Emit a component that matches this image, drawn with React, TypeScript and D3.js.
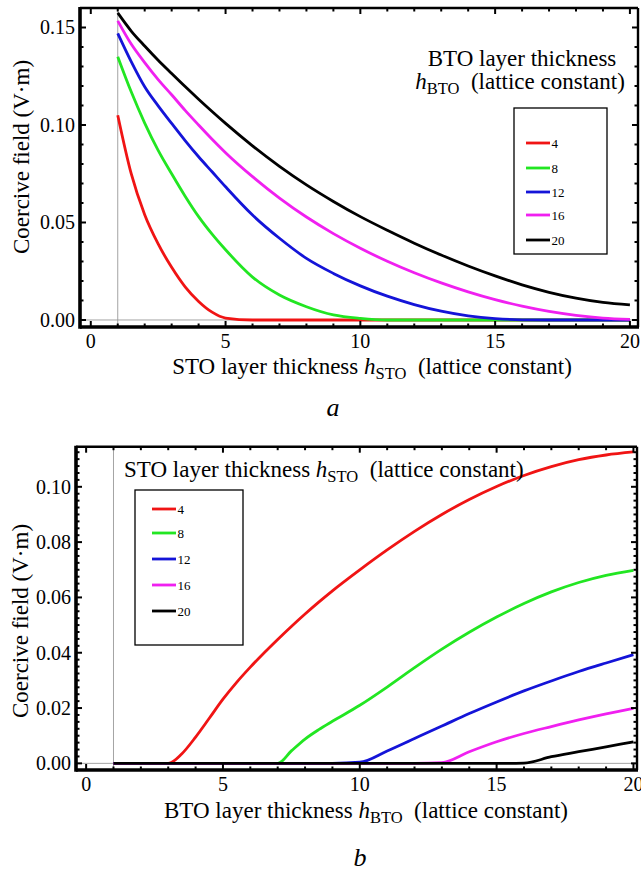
import React from "react";
import * as d3 from "d3";

// ---------- data ----------
const seriesLabels = ["4", "8", "12", "16", "20"];
const seriesColors = ["#f01414", "#22e622", "#1414d8", "#f020f0", "#000000"];

// Panel a: coercive field vs STO thickness, for BTO thickness 4..20
const topX = [1, 1.5, 2, 2.5, 3, 3.5, 4, 4.5, 5, 6, 7, 8, 9, 10, 11, 12, 13, 14, 15, 16, 17, 18, 19, 20];
const topRed = [0.105, 0.075, 0.054, 0.039, 0.027, 0.017, 0.0095, 0.004, 0.001, 0, 0, 0, 0, 0, 0, 0, 0, 0, 0, 0, 0, 0, 0, 0];
const topGreen = [0.135, 0.117, 0.101, 0.087, 0.075, 0.0635, 0.053, 0.044, 0.036, 0.022, 0.0128, 0.0068, 0.0026, 0.0008, 0, 0, 0, 0, 0, 0, 0, 0, 0, 0];
const topBlue = [0.147, 0.1325, 0.1196, 0.1098, 0.1008, 0.092, 0.0837, 0.076, 0.0683, 0.0538, 0.0419, 0.0316, 0.0239, 0.0175, 0.0122, 0.0079, 0.0045, 0.0021, 0.0007, 0.0001, 0, 0, 0, 0];
const topMagenta = [0.1534, 0.1415, 0.132, 0.1233, 0.1155, 0.1075, 0.1, 0.0927, 0.0858, 0.0735, 0.0625, 0.0528, 0.0443, 0.0368, 0.0301, 0.0242, 0.019, 0.0144, 0.0104, 0.0071, 0.0044, 0.0024, 0.001, 0.0003];
const topBlack = [0.1575, 0.1482, 0.1405, 0.1332, 0.1264, 0.1197, 0.1132, 0.1069, 0.1008, 0.0893, 0.0788, 0.0693, 0.0608, 0.053, 0.046, 0.0394, 0.0333, 0.0277, 0.0226, 0.018, 0.0142, 0.0112, 0.009, 0.0077];

// Panel b: coercive field vs BTO thickness, for STO thickness 4..20
const botX = [1, 2, 3, 3.5, 4, 4.5, 5, 5.5, 6, 7, 7.5, 8, 8.5, 9, 10, 11, 12, 13, 14, 15, 16, 17, 18, 19, 20];
const botRed = [0, 0, 0, 0.0035, 0.0095, 0.0163, 0.0232, 0.0293, 0.0348, 0.0448, 0.0495, 0.054, 0.0583, 0.0624, 0.07, 0.0772, 0.0839, 0.09, 0.0954, 0.1001, 0.1041, 0.1073, 0.1098, 0.1115, 0.1126];
const botGreen = [0, 0, 0, 0, 0, 0, 0, 0, 0, 0, 0.0045, 0.0088, 0.0122, 0.0152, 0.021, 0.0276, 0.0346, 0.0413, 0.0474, 0.0529, 0.0578, 0.062, 0.0654, 0.068, 0.0698];
const botBlue = [0, 0, 0, 0, 0, 0, 0, 0, 0, 0, 0, 0, 0, 0, 0.0004, 0.0045, 0.009, 0.0135, 0.018, 0.0222, 0.0262, 0.0298, 0.0332, 0.0363, 0.0393];
const botMagenta = [0, 0, 0, 0, 0, 0, 0, 0, 0, 0, 0, 0, 0, 0, 0, 0, 0, 0.0003, 0.0042, 0.0078, 0.0108, 0.0133, 0.0157, 0.0179, 0.0199];
const botBlack = [0, 0, 0, 0, 0, 0, 0, 0, 0, 0, 0, 0, 0, 0, 0, 0, 0, 0, 0, 0, 0.0001, 0.0024, 0.0042, 0.006, 0.0078];

const xMajor = [0, 5, 10, 15, 20];
const topYMajor = [0, 0.05, 0.1, 0.15];
const botYMajor = [0, 0.02, 0.04, 0.06, 0.08, 0.1];

const FONT = "'Times New Roman', 'Liberation Serif', Tinos, serif";

type Panel = {
  x: d3.ScaleLinear<number, number>;
  y: d3.ScaleLinear<number, number>;
  xs: number[];
  series: number[][];
  yMajor: number[];
  yMinorStep: number;
  yMax: number;
  yLabelRight: number;
  xLabelBase: number;
  fmt: (v: number) => string;
};

function PanelView({ p }: { p: Panel }) {
  const [x0, x1] = p.x.range();
  const [y0, y1] = p.y.range(); // y0 bottom, y1 top
  const line = d3
    .line<[number, number]>()
    .x((d) => p.x(d[0]))
    .y((d) => p.y(d[1]))
    .curve(d3.curveMonotoneX);

  const xMinor = d3.range(0, 21, 1).filter((v) => v % 5 !== 0);
  const nMinor = Math.floor(p.yMax / p.yMinorStep + 1e-9);
  const yMinor = d3
    .range(0, nMinor + 1)
    .map((i) => i * p.yMinorStep)
    .filter((v) => !p.yMajor.some((m) => Math.abs(m - v) < 1e-9));

  const MJ = 6;
  const MN = 3.5;
  return (
    <g>
      <line x1={p.x(1)} x2={p.x(1)} y1={y0} y2={y1} stroke="#9a9a9a" strokeWidth={0.9} />
      <line x1={x0} x2={x1} y1={p.y(0)} y2={p.y(0)} stroke="#9a9a9a" strokeWidth={0.9} />
      {p.series.map((ys, i) => (
        <path
          key={i}
          d={line(p.xs.map((xv, j) => [xv, ys[j]] as [number, number])) || ""}
          fill="none"
          stroke={seriesColors[i]}
          strokeWidth={2.8}
          strokeLinejoin="round"
        />
      ))}
      {xMajor.map((v) => (
        <g key={"xM" + v}>
          <line x1={p.x(v)} x2={p.x(v)} y1={y0} y2={y0 - MJ} stroke="#000" strokeWidth={2} />
          <line x1={p.x(v)} x2={p.x(v)} y1={y1} y2={y1 + MJ} stroke="#000" strokeWidth={2} />
          <text x={p.x(v)} y={p.xLabelBase} textAnchor="middle" fontFamily={FONT} fontSize={20}>
            {v}
          </text>
        </g>
      ))}
      {xMinor.map((v) => (
        <g key={"xm" + v}>
          <line x1={p.x(v)} x2={p.x(v)} y1={y0} y2={y0 - MN} stroke="#000" strokeWidth={2} />
          <line x1={p.x(v)} x2={p.x(v)} y1={y1} y2={y1 + MN} stroke="#000" strokeWidth={2} />
        </g>
      ))}
      {p.yMajor.map((v) => (
        <g key={"yM" + v}>
          <line x1={x0} x2={x0 + MJ} y1={p.y(v)} y2={p.y(v)} stroke="#000" strokeWidth={2} />
          <line x1={x1} x2={x1 - MJ} y1={p.y(v)} y2={p.y(v)} stroke="#000" strokeWidth={2} />
          <text x={p.yLabelRight} y={p.y(v) + 7} textAnchor="end" fontFamily={FONT} fontSize={20}>
            {p.fmt(v)}
          </text>
        </g>
      ))}
      {yMinor.map((v, i) => (
        <g key={"ym" + i}>
          <line x1={x0} x2={x0 + MN} y1={p.y(v)} y2={p.y(v)} stroke="#000" strokeWidth={2} />
          <line x1={x1} x2={x1 - MN} y1={p.y(v)} y2={p.y(v)} stroke="#000" strokeWidth={2} />
        </g>
      ))}
      <line x1={x0} x2={x1} y1={y1} y2={y1} stroke="#000" strokeWidth={2.6} />
      <line x1={x1} x2={x1} y1={y1} y2={y0} stroke="#000" strokeWidth={2.4} />
      <line x1={x0} x2={x1 + 1} y1={y0} y2={y0} stroke="#000" strokeWidth={3.6} />
      <line x1={x0} x2={x0} y1={y1 - 1} y2={y0 + 1.8} stroke="#000" strokeWidth={3.6} />
    </g>
  );
}

function Legend({ box, ys, x0, x1 }: { box: [number, number, number, number]; ys: number[]; x0: number; x1: number }) {
  return (
    <g>
      <rect x={box[0]} y={box[1]} width={box[2] - box[0]} height={box[3] - box[1]} fill="#fff" stroke="#000" strokeWidth={1.3} />
      {seriesLabels.map((l, i) => (
        <g key={l}>
          <line x1={x0} x2={x1} y1={ys[i]} y2={ys[i]} stroke={seriesColors[i]} strokeWidth={2.8} />
          <text x={x1 + 1.5} y={ys[i] + 4.5} fontFamily={FONT} fontSize={13}>
            {l}
          </text>
        </g>
      ))}
    </g>
  );
}

function Title({ x, y, anchor, pre, sub }: { x: number; y: number; anchor: string; pre: string; sub: string }) {
  return (
    <text x={x} y={y} textAnchor={anchor} fontFamily={FONT} fontSize={23}>
      {pre}
      <tspan fontStyle="italic">h</tspan>
      <tspan fontSize={16.5} dy={5}>{sub}</tspan>
      <tspan dy={-5}>{"\u00A0\u00A0(lattice constant)"}</tspan>
    </text>
  );
}

export default function App() {
  const fmt2 = d3.format(".2f");
  const top: Panel = {
    x: d3.scaleLinear().domain([-0.4, 20.3]).range([80, 638]),
    y: d3.scaleLinear().domain([-0.0036, 0.16]).range([327, 8]),
    xs: topX,
    series: [topRed, topGreen, topBlue, topMagenta, topBlack],
    yMajor: topYMajor,
    yMinorStep: 0.01,
    yMax: 0.16,
    yLabelRight: 75,
    xLabelBase: 348,
    fmt: fmt2,
  };
  const bot: Panel = {
    x: d3.scaleLinear().domain([-0.37, 20.13]).range([76, 637]),
    y: d3.scaleLinear().domain([-0.0024, 0.1145]).range([770, 446.7]),
    xs: botX,
    series: [botRed, botGreen, botBlue, botMagenta, botBlack],
    yMajor: botYMajor,
    yMinorStep: 0.0025,
    yMax: 0.114,
    yLabelRight: 71,
    xLabelBase: 791,
    fmt: fmt2,
  };

  return (
    <svg
      width={641}
      height={874}
      viewBox="0 0 641 874"
      style={{ position: "absolute", left: 0, top: 0, background: "#fff" }}
    >
      <rect x={0} y={0} width={641} height={874} fill="#fff" />
      <PanelView p={top} />
      <PanelView p={bot} />

      {/* Panel a texts */}
      <text transform="translate(29,157) rotate(-90)" textAnchor="middle" fontFamily={FONT} fontSize={23}>
        Coercive field (V·m)
      </text>
      <Title x={372} y={374} anchor="middle" pre="STO layer thickness " sub="STO" />
      <text x={333} y={416} textAnchor="middle" fontFamily={FONT} fontSize={26} fontStyle="italic">
        a
      </text>
      <text x={522} y={66} textAnchor="middle" fontFamily={FONT} fontSize={23}>
        BTO layer thickness
      </text>
      <Title x={520} y={89} anchor="middle" pre="" sub="BTO" />
      <Legend box={[514, 108, 607, 254]} ys={[143, 168, 192, 215, 240]} x0={526} x1={550} />

      {/* Panel b texts */}
      <text transform="translate(28,621) rotate(-90)" textAnchor="middle" fontFamily={FONT} fontSize={23}>
        Coercive field (V·m)
      </text>
      <Title x={366} y={818} anchor="middle" pre="BTO layer thickness " sub="BTO" />
      <text x={360} y={866} textAnchor="middle" fontFamily={FONT} fontSize={26} fontStyle="italic">
        b
      </text>
      <Title x={124} y={477} anchor="start" pre="STO layer thickness " sub="STO" />
      <Legend box={[135, 490, 243, 645]} ys={[509, 533, 559, 585, 611]} x0={152} x1={176} />
    </svg>
  );
}
